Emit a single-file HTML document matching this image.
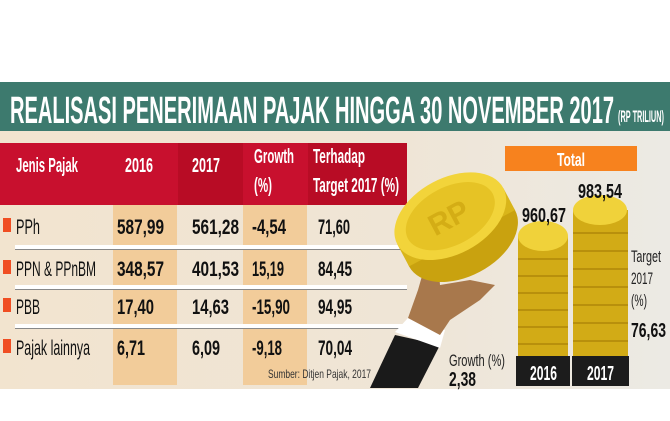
<!DOCTYPE html>
<html><head><meta charset="utf-8"><style>
html,body{margin:0;padding:0}
body{width:670px;height:421px;overflow:hidden;background:#fff;position:relative;font-family:"Liberation Sans",sans-serif}
.abs{position:absolute}
</style></head><body>
<div class="abs" style="left:0;top:82px;width:670px;height:49px;background:#3d7a6e"></div>
<div class="abs" style="left:0;top:131px;width:670px;height:258px;background:linear-gradient(90deg,#f2e4cf,#efe5d6 60%,#eceae4)"></div>
<div class="abs" style="left:0;top:143px;width:407px;height:62px;background:#c8102e"></div>
<div class="abs" style="left:178px;top:143px;width:65px;height:62px;background:#b80c25"></div>
<div class="abs" style="left:308px;top:143px;width:99px;height:62px;background:#b80c25"></div>
<div class="abs" style="left:113px;top:205px;width:64px;height:180px;background:#f2cc9a"></div>
<div class="abs" style="left:243px;top:205px;width:64px;height:180px;background:#f2cc9a"></div>
<div class="abs" style="left:15px;top:245px;width:392px;height:4px;background:#fff;border-bottom:1px solid #888"></div>
<div class="abs" style="left:15px;top:285px;width:392px;height:4px;background:#fff;border-bottom:1px solid #888"></div>
<div class="abs" style="left:15px;top:324px;width:392px;height:4px;background:#fff;border-bottom:1px solid #888"></div>
<svg class="abs" style="left:0;top:0" width="670" height="421">
<g font-family="Liberation Sans, sans-serif" font-weight="bold" fill="#fff">
<text x="10" y="123" font-size="38" textLength="604" lengthAdjust="spacingAndGlyphs">REALISASI PENERIMAAN PAJAK HINGGA 30 NOVEMBER 2017</text>
<text x="618" y="122" font-size="17" textLength="46" lengthAdjust="spacingAndGlyphs">(RP TRILIUN)</text>
</g>
<g font-family="Liberation Sans, sans-serif" font-weight="bold" fill="#fff" font-size="20">
<text x="16" y="172" textLength="62" lengthAdjust="spacingAndGlyphs">Jenis Pajak</text>
<text x="125" y="172" textLength="28" lengthAdjust="spacingAndGlyphs">2016</text>
<text x="192" y="172" textLength="28" lengthAdjust="spacingAndGlyphs">2017</text>
<text x="254" y="163" textLength="40" lengthAdjust="spacingAndGlyphs">Growth</text>
<text x="254" y="192" textLength="18" lengthAdjust="spacingAndGlyphs">(%)</text>
<text x="313" y="163" textLength="52" lengthAdjust="spacingAndGlyphs">Terhadap</text>
<text x="313" y="192" textLength="86" lengthAdjust="spacingAndGlyphs">Target 2017 (%)</text>
</g>
<g fill="#f04e23"><rect x="3" y="218" width="8" height="14"/><rect x="3" y="260" width="8" height="14"/><rect x="3" y="298" width="8" height="14"/><rect x="3" y="339" width="8" height="14"/></g>
<g font-family="Liberation Sans, sans-serif" fill="#111" font-size="21">
<text x="16" y="234" textLength="24" lengthAdjust="spacingAndGlyphs">PPh</text>
<text x="16" y="276" textLength="80" lengthAdjust="spacingAndGlyphs">PPN &amp; PPnBM</text>
<text x="16" y="314" textLength="24" lengthAdjust="spacingAndGlyphs">PBB</text>
<text x="16" y="355" textLength="74" lengthAdjust="spacingAndGlyphs">Pajak lainnya</text>
</g>
<g font-family="Liberation Sans, sans-serif" font-weight="bold" fill="#111" font-size="21">
<text x="117" y="234" textLength="47" lengthAdjust="spacingAndGlyphs">587,99</text>
<text x="192" y="234" textLength="47" lengthAdjust="spacingAndGlyphs">561,28</text>
<text x="252" y="234" textLength="34" lengthAdjust="spacingAndGlyphs">-4,54</text>
<text x="318" y="234" textLength="32" lengthAdjust="spacingAndGlyphs">71,60</text>
<text x="117" y="276" textLength="47" lengthAdjust="spacingAndGlyphs">348,57</text>
<text x="192" y="276" textLength="47" lengthAdjust="spacingAndGlyphs">401,53</text>
<text x="252" y="276" textLength="32" lengthAdjust="spacingAndGlyphs">15,19</text>
<text x="318" y="276" textLength="34" lengthAdjust="spacingAndGlyphs">84,45</text>
<text x="117" y="314" textLength="37" lengthAdjust="spacingAndGlyphs">17,40</text>
<text x="192" y="314" textLength="37" lengthAdjust="spacingAndGlyphs">14,63</text>
<text x="252" y="314" textLength="38" lengthAdjust="spacingAndGlyphs">-15,90</text>
<text x="318" y="314" textLength="34" lengthAdjust="spacingAndGlyphs">94,95</text>
<text x="117" y="355" textLength="28" lengthAdjust="spacingAndGlyphs">6,71</text>
<text x="192" y="355" textLength="28" lengthAdjust="spacingAndGlyphs">6,09</text>
<text x="252" y="355" textLength="30" lengthAdjust="spacingAndGlyphs">-9,18</text>
<text x="318" y="355" textLength="34" lengthAdjust="spacingAndGlyphs">70,04</text>
</g>
<text x="268" y="378" font-family="Liberation Sans, sans-serif" font-size="12" fill="#333" textLength="103" lengthAdjust="spacingAndGlyphs">Sumber: Ditjen Pajak, 2017</text>
<path d="M370 388 L395 335 L440 345 L418 388 Z" fill="#1a1a1a"/>
<path d="M395 332 L408 318 L445 330 L440 348 Z" fill="#fff"/>
<path d="M408 318 L418 290 L428 255 L437 250 L440 285 L470 280 L495 285 L480 300 L450 320 L440 335 Z" fill="#a8784c"/>
<g transform="rotate(-28 455 225)">
<ellipse cx="455" cy="240" rx="60" ry="38" fill="#c9a20f"/>
<rect x="395" y="215" width="120" height="25" fill="#d9b51a"/>
<ellipse cx="455" cy="215" rx="60" ry="38" fill="#f2d43a"/>
<ellipse cx="455" cy="215" rx="48" ry="29" fill="#e6c325"/>
<text x="432" y="226" font-family="Liberation Sans" font-weight="bold" font-size="30" fill="#d4ad15">RP</text>
</g>
<rect x="518" y="236" width="50" height="120" fill="#d2ab16"/>
<g fill="#b8900c"><rect x="518" y="258" width="50" height="2"/><rect x="518" y="275" width="50" height="2"/><rect x="518" y="292" width="50" height="2"/><rect x="518" y="309" width="50" height="2"/><rect x="518" y="326" width="50" height="2"/><rect x="518" y="343" width="50" height="2"/></g>
<ellipse cx="543" cy="236" rx="25" ry="15" fill="#f0d23a"/>
<rect x="573" y="210" width="55" height="146" fill="#d2ab16"/>
<g fill="#b8900c"><rect x="573" y="232" width="55" height="2"/><rect x="573" y="250" width="55" height="2"/><rect x="573" y="268" width="55" height="2"/><rect x="573" y="286" width="55" height="2"/><rect x="573" y="304" width="55" height="2"/><rect x="573" y="322" width="55" height="2"/><rect x="573" y="340" width="55" height="2"/></g>
<ellipse cx="600" cy="210" rx="27" ry="15" fill="#f0d23a"/>
<rect x="516" y="356" width="54" height="30" fill="#1c1c1c"/>
<rect x="572" y="356" width="57" height="30" fill="#1c1c1c"/>
<rect x="505" y="146" width="132" height="25" fill="#f7821e"/>
<g font-family="Liberation Sans, sans-serif" font-weight="bold">
<text x="557" y="166" fill="#fff" font-size="18" textLength="28" lengthAdjust="spacingAndGlyphs">Total</text>
<text x="522" y="222" fill="#111" font-size="20" textLength="44" lengthAdjust="spacingAndGlyphs">960,67</text>
<text x="578" y="198" fill="#111" font-size="20" textLength="44" lengthAdjust="spacingAndGlyphs">983,54</text>
<text x="530" y="380" fill="#fff" font-size="20" textLength="27" lengthAdjust="spacingAndGlyphs">2016</text>
<text x="587" y="380" fill="#fff" font-size="20" textLength="27" lengthAdjust="spacingAndGlyphs">2017</text>
<text x="449" y="386" fill="#111" font-size="20" textLength="27" lengthAdjust="spacingAndGlyphs">2,38</text>
<text x="631" y="337" fill="#111" font-size="20" textLength="35" lengthAdjust="spacingAndGlyphs">76,63</text>
</g>
<g font-family="Liberation Sans, sans-serif" font-size="17" fill="#222">
<text x="449" y="366" textLength="56" lengthAdjust="spacingAndGlyphs">Growth (%)</text>
<text x="631" y="262" textLength="30" lengthAdjust="spacingAndGlyphs">Target</text>
<text x="631" y="284" textLength="22" lengthAdjust="spacingAndGlyphs">2017</text>
<text x="631" y="306" textLength="16" lengthAdjust="spacingAndGlyphs">(%)</text>
</g>
</svg>
</body></html>
